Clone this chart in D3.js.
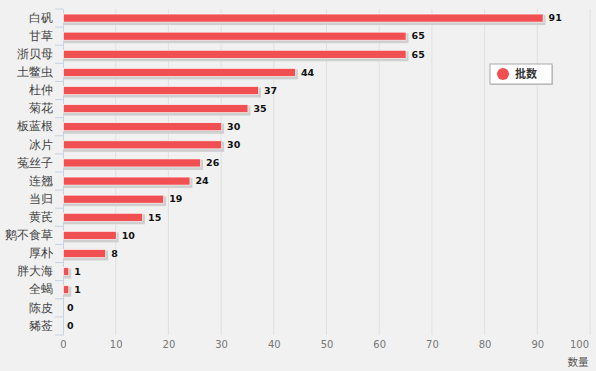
<!DOCTYPE html>
<html>
<head>
<meta charset="utf-8">
<script src="https://cdn.jsdelivr.net/npm/d3@7"></script>
<style>
  html, body { margin: 0; padding: 0; background: #f1f1f1; }
  svg { display: block; font-family: "Noto Sans CJK SC", "DejaVu Sans", sans-serif; }
</style>
</head>
<body>
<svg></svg>
<script>
// categories (top to bottom) and their counts
const herbs = ["白矾", "甘草", "浙贝母", "土鳖虫", "杜仲", "菊花", "板蓝根", "冰片", "菟丝子", "连翘",
               "当归", "黄芪", "鹅不食草", "厚朴", "胖大海", "全蝎", "陈皮", "豨莶"];
const counts = [91, 65, 65, 44, 37, 35, 30, 30, 26, 24, 19, 15, 10, 8, 1, 1, 0, 0];
const xTicks = [0, 10, 20, 30, 40, 50, 60, 70, 80, 90, 100];
const seriesName = "批数";
const axisTitle = "数量";

const width = 596;
const height = 371;
const margin = {top: 9, right: 6, bottom: 36, left: 63};
const barColor = "#f05052";

const svg = d3.select("svg")
    .attr("width", width)
    .attr("height", height);

svg.append("rect")
    .attr("width", width)
    .attr("height", height)
    .attr("fill", "#f1f1f1");

// Scales
const xScale = d3.scaleLinear()
    .domain([0, 100])
    .range([margin.left, width - margin.right]);

const yScale = d3.scaleBand()
    .domain(herbs)
    .range([margin.top, height - margin.bottom]);

// vertical grid
svg.append("g")
  .selectAll("line")
  .data(xTicks.slice(1))
  .enter()
  .append("line")
    .attr("x1", d => xScale(d))
    .attr("x2", d => xScale(d))
    .attr("y1", margin.top)
    .attr("y2", height - margin.bottom)
    .attr("stroke", "#e0e0e0")
    .attr("stroke-width", 1);

// x axis labels
const xAxis = d3.axisBottom(xScale)
    .tickValues(xTicks)
    .tickSize(0)
    .tickPadding(6);

const gx = svg.append("g")
    .attr("transform", `translate(0, ${height - margin.bottom})`)
    .call(xAxis);
gx.select(".domain").remove();
gx.selectAll("text")
    .attr("fill", "#777")
    .attr("font-size", "10px")
    .attr("font-family", "Verdana, 'DejaVu Sans', sans-serif")
    .attr("dx", d => d === 100 ? -11 : 0);

// y axis
const yAxis = d3.axisLeft(yScale)
    .tickSize(0)
    .tickPadding(10);

const gy = svg.append("g")
    .attr("transform", `translate(${margin.left}, 0)`)
    .call(yAxis);
gy.select(".domain")
    .attr("stroke", "#c5d3e3");
gy.selectAll("text")
    .attr("fill", "#444")
    .attr("font-size", "11.5px");

// small ticks on band boundaries
svg.append("g")
  .selectAll("line")
  .data([margin.top].concat(herbs.map(h => yScale(h) + yScale.bandwidth())))
  .enter()
  .append("line")
    .attr("x1", margin.left - 8)
    .attr("x2", margin.left)
    .attr("y1", d => d)
    .attr("y2", d => d)
    .attr("stroke", "#c5d3e3");

const barH = 8;
const rows = herbs.map((h, i) => ({name: h, value: counts[i]}));

// bar shadows
svg.append("g")
  .selectAll("rect")
  .data(rows.filter(d => d.value > 0))
  .enter()
  .append("rect")
    .attr("x", margin.left + 1)
    .attr("y", d => yScale(d.name) + yScale.bandwidth() / 2 - barH / 2 + 1)
    .attr("width", d => xScale(d.value) - margin.left + 2)
    .attr("height", barH + 2)
    .attr("fill", "#cfcfcf");

// bars
svg.append("g")
  .selectAll("rect")
  .data(rows.filter(d => d.value > 0))
  .enter()
  .append("rect")
    .attr("x", margin.left + 0.5)
    .attr("y", d => yScale(d.name) + yScale.bandwidth() / 2 - barH / 2)
    .attr("width", d => xScale(d.value) - margin.left)
    .attr("height", barH)
    .attr("fill", barColor)
    .attr("stroke", "#fff")
    .attr("stroke-width", 0.6);

// value labels
svg.append("g")
  .selectAll("text")
  .data(rows)
  .enter()
  .append("text")
    .attr("x", d => xScale(d.value) + (d.value > 0 ? 6 : 4))
    .attr("y", d => yScale(d.name) + yScale.bandwidth() / 2)
    .attr("dy", "0.35em")
    .attr("font-size", "9.5px")
    .attr("font-weight", "bold")
    .attr("font-family", "Verdana, 'DejaVu Sans', sans-serif")
    .attr("fill", "#111")
    .text(d => d.value);

// legend
const legend = svg.append("g")
    .attr("transform", "translate(490, 64)");
legend.append("rect")
    .attr("x", 1).attr("y", 1)
    .attr("width", 62).attr("height", 20)
    .attr("fill", "#c8c8c8");
legend.append("rect")
    .attr("width", 62).attr("height", 20)
    .attr("fill", "#fff")
    .attr("stroke", "#aaa");
legend.append("circle")
    .attr("cx", 13).attr("cy", 10)
    .attr("r", 6)
    .attr("fill", barColor);
legend.append("text")
    .attr("x", 25).attr("y", 10)
    .attr("dy", "0.36em")
    .attr("font-size", "11px")
    .attr("font-weight", "bold")
    .attr("fill", "#333")
    .text(seriesName);

// axis title
svg.append("text")
    .attr("x", 578)
    .attr("y", 366)
    .attr("text-anchor", "middle")
    .attr("font-size", "10.5px")
    .attr("fill", "#555")
    .text(axisTitle);
</script>
</body>
</html>
